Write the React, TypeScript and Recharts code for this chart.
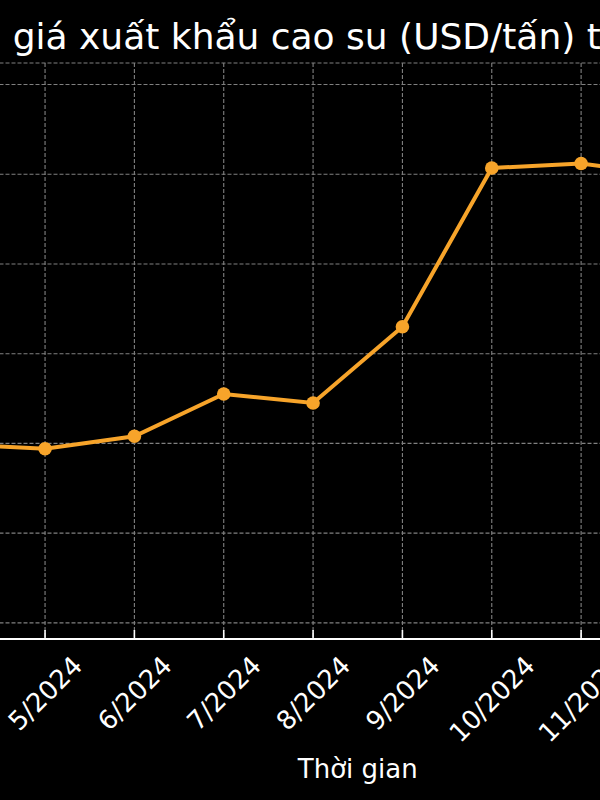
import React from 'react';
import { LineChart, Line, XAxis, YAxis, CartesianGrid } from 'recharts';

const months = ['4/2024', '5/2024', '6/2024', '7/2024', '8/2024', '9/2024', '10/2024', '11/2024', '12/2024'];
const prices = [1599, 1594, 1608, 1655, 1645, 1730, 1907, 1912, 1899];
const yTicks = [1400, 1500, 1600, 1700, 1800, 1900, 2000];
const titlePrefix = 'Biến động';
const titleMain = 'giá xuất khẩu cao su (USD/tấn) theo tháng';
const xLabel = 'Thời gian';

const data = months.map((m, i) => ({ i, month: m, price: prices[i] }));
const xTicks = months.map((_, i) => i);

const FONT = 'DejaVu Sans';
const ORANGE = '#f7a42a';
const TICK_FS = 26;

function textWidth(s: string, fs: number) {
  let w = 0;
  for (const ch of s) w += ch === '/' ? 0.337 : 0.636;
  return w * fs;
}

const XTick = (props: any) => {
  const { x, y, payload } = props;
  const label = months[payload.value] ?? '';
  const w = textWidth(label, TICK_FS);
  const extent = (w + 0.73 * TICK_FS) / Math.SQRT2;
  const cy = y + 15 + extent / 2;
  return (
    <g>
      <line x1={x} x2={x} y1={y - 9} y2={y} stroke="#ffffff" strokeWidth={1.6} />
      <text
        x={x}
        y={cy}
        dy="0.36em"
        textAnchor="middle"
        fill="#ffffff"
        fontFamily={FONT}
        fontSize={TICK_FS}
        transform={`rotate(-45 ${x} ${cy})`}
      >
        {label}
      </text>
    </g>
  );
};

const XLabel = (props: any) => {
  const vb = props.viewBox || {};
  return (
    <text
      x={vb.x + vb.width / 2}
      y={vb.y + 139}
      textAnchor="middle"
      fill="#ffffff"
      fontFamily={FONT}
      fontSize={26}
    >
      {xLabel}
    </text>
  );
};

export default function App() {
  return (
    <div
      style={{
        position: 'fixed',
        left: 0,
        top: 0,
        width: 600,
        height: 800,
        overflow: 'hidden',
        background: '#000000',
      }}
    >
      <div style={{ position: 'absolute', left: -200, top: 0 }}>
        <LineChart
          width={1060}
          height={800}
          data={data}
          margin={{ top: 63, right: 60, left: 35.5, bottom: 0 }}
        >
          <CartesianGrid stroke="#808080" strokeDasharray="4 2" strokeWidth={1.1} />
          <XAxis
            dataKey="i"
            type="number"
            domain={[-0.45, 9.45]}
            allowDataOverflow
            ticks={xTicks}
            interval={0}
            height={161}
            tickSize={0}
            tickMargin={0}
            tickLine={false}
            axisLine={{ stroke: '#ffffff', strokeWidth: 2 }}
            tick={<XTick />}
            label={{ content: <XLabel /> }}
          />
          <YAxis
            type="number"
            domain={[1382, 2024]}
            allowDataOverflow
            ticks={yTicks}
            width={80}
            axisLine={false}
            tickLine={false}
            tick={{ fill: '#ffffff', fontFamily: FONT, fontSize: 26 }}
          />
          <Line
            type="linear"
            dataKey="price"
            stroke={ORANGE}
            strokeWidth={4}
            dot={{ r: 6.8, fill: ORANGE, stroke: ORANGE, strokeWidth: 0 }}
            activeDot={false}
            isAnimationActive={false}
          />
        </LineChart>
      </div>
      <svg
        width={600}
        height={70}
        style={{ position: 'absolute', left: 0, top: 0, overflow: 'visible' }}
      >
        <text x={-16} y={49} textAnchor="end" fill="#ffffff" fontFamily={FONT} fontSize={36}>
          {titlePrefix}
        </text>
        <text x={12.7} y={49} textAnchor="start" fill="#ffffff" fontFamily={FONT} fontSize={36}>
          {titleMain}
        </text>
      </svg>
    </div>
  );
}
